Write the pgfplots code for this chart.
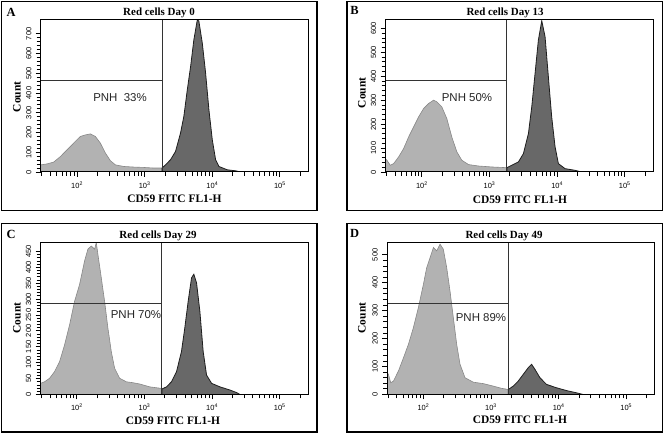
\documentclass[border=0pt]{standalone}
\usepackage{pgfplots}
\pgfplotsset{compat=1.18}
\usepackage{fontspec}
\setmainfont{Liberation Serif}
\newfontfamily\arial{Liberation Sans}
\definecolor{lightpop}{RGB}{178,178,178}
\definecolor{darkpop}{RGB}{104,104,104}
\definecolor{lightline}{RGB}{135,135,135}
\definecolor{darkline}{RGB}{30,30,30}
\pgfplotsset{
 flowaxis/.style={
  scale only axis, width=267.5bp, height=152bp,
  xmin=1.462, xmax=5.4185, ymin=0,
  axis on top,
  axis line style={line width=1bp, black},
  tick align=outside, tick pos=left,
  xtick={2,3,4,5},
  xticklabels={10\textsuperscript{2},10\textsuperscript{3},10\textsuperscript{4},10\textsuperscript{5}},
  minor xtick={1.4771,1.6021,1.6990,1.7782,1.8451,1.9031,1.9542,
               2.3010,2.4771,2.6021,2.6990,2.7782,2.8451,2.9031,2.9542,
               3.3010,3.4771,3.6021,3.6990,3.7782,3.8451,3.9031,3.9542,
               4.3010,4.4771,4.6021,4.6990,4.7782,4.8451,4.9031,4.9542,
               5.3010},
  major tick length=5bp, minor tick length=4bp,
  tick style={black, line width=0.85bp},
  ticklabel style={font=\arial\fontsize{7.5}{8.5}\selectfont},
  xticklabel style={inner sep=4.5bp},
  yticklabel style={rotate=90, anchor=south, inner sep=4bp},
  /pgf/number format/assume math mode=true,
  minor y tick num=4,
 },
 lightfill/.style={fill=lightpop, draw=lightline, line width=0.6bp},
 darkfill/.style={fill=darkpop, draw=darkline, line width=0.8bp},
 gate/.style={black!80, line width=0.8bp},
}
\begin{document}
\begin{tikzpicture}[x=1bp,y=1bp]
\useasboundingbox (0,0) rectangle (664,435);
% outer frames
\draw[line width=1.2bp] (1.5,224.5) rectangle (317,433.5);
\draw[line width=1.2bp] (347,224.5) rectangle (662.5,433.5);
\draw[line width=1.2bp] (1.5,3) rectangle (317,211.5);
\draw[line width=1.2bp] (347,3) rectangle (662.5,211.5);

% ---------------- Panel A ----------------
\begin{axis}[flowaxis, at={(40.7bp,263bp)}, anchor=south west,
  ymax=770, ytick={0,100,...,700}]
\addplot[lightfill] table {
x y
1.462 36
1.556 41
1.653 50
1.753 78
1.827 104
1.901 129
1.975 155
2.049 180
2.123 188
2.197 193
2.271 180
2.345 146
2.419 96
2.493 57
2.567 36
2.690 28
2.838 25
2.986 23
3.134 20
3.257 20
} \closedcycle;
\addplot[darkfill] table {
x y
3.257 20
3.308 36
3.382 62
3.456 104
3.530 197
3.579 281
3.630 416
3.679 534
3.727 669
3.778 770
3.801 765
3.852 653
3.901 501
3.950 315
4.000 163
4.049 62
4.098 28
4.222 11
4.345 6
4.419 0
} \closedcycle;
\addplot[gate] coordinates {(3.257,0) (3.257,770)};
\addplot[gate] coordinates {(1.462,463) (3.257,463)};
\end{axis}

% ---------------- Panel B ----------------
\begin{axis}[flowaxis, at={(385.5bp,263bp)}, anchor=south west,
  ymax=635, ytick={0,100,...,600}]
\addplot[lightfill] table {
x y
1.462 55
1.483 49
1.532 28
1.582 35
1.656 63
1.730 98
1.803 146
1.877 188
1.951 230
2.025 265
2.099 286
2.172 300
2.222 293
2.295 272
2.369 223
2.443 146
2.517 84
2.591 49
2.690 31
2.837 25
3.034 21
3.257 18
} \closedcycle;
\addplot[darkfill] table {
x y
3.257 18
3.329 28
3.428 42
3.502 77
3.576 161
3.625 272
3.674 412
3.723 551
3.773 632
3.822 565
3.871 397
3.920 230
3.970 105
4.019 35
4.117 14
4.265 7
4.363 0
} \closedcycle;
\addplot[gate] coordinates {(3.257,0) (3.257,635)};
\addplot[gate] coordinates {(1.462,381) (3.257,381)};
\end{axis}

% ---------------- Panel C ----------------
\begin{axis}[flowaxis, at={(40.5bp,40.5bp)}, anchor=south west,
  ymax=478, ytick={0,50,...,450}]
\addplot[lightfill] table {
x y
1.462 35
1.522 40
1.596 51
1.670 72
1.744 103
1.818 156
1.892 219
1.966 293
2.040 346
2.114 420
2.163 457
2.213 467
2.262 457
2.287 478
2.311 441
2.361 367
2.410 293
2.459 209
2.509 135
2.559 82
2.633 51
2.731 40
2.830 37
2.929 33
3.077 24
3.257 19
} \closedcycle;
\addplot[darkfill] table {
x y
3.257 17
3.325 24
3.400 40
3.474 72
3.547 135
3.596 209
3.646 293
3.696 367
3.730 378
3.770 351
3.819 262
3.868 135
3.918 61
3.993 35
4.116 24
4.264 14
4.363 6
4.412 0
} \closedcycle;
\addplot[gate] coordinates {(3.257,0) (3.257,478)};
\addplot[gate] coordinates {(1.462,285) (3.257,285)};
\end{axis}

% ---------------- Panel D ----------------
\begin{axis}[flowaxis, at={(387bp,40.5bp)}, anchor=south west,
  ymax=544, ytick={0,100,...,500}]
\addplot[lightfill] table {
x y
1.462 80
1.483 72
1.517 42
1.557 48
1.631 84
1.705 131
1.778 179
1.852 239
1.926 311
2.000 394
2.049 454
2.099 490
2.148 526
2.197 514
2.246 538
2.295 520
2.345 454
2.394 370
2.443 275
2.493 179
2.542 108
2.616 60
2.739 44
2.886 39
3.034 30
3.157 22
3.257 18
} \closedcycle;
\addplot[darkfill] table {
x y
3.257 18
3.329 30
3.403 48
3.477 72
3.551 96
3.600 108
3.650 90
3.724 60
3.822 36
3.970 24
4.117 14
4.265 6
4.363 0
} \closedcycle;
\addplot[gate] coordinates {(3.257,0) (3.257,544)};
\addplot[gate] coordinates {(1.462,325) (3.257,325)};
\end{axis}

% ---------------- Texts ----------------
\begin{scope}[every node/.style={font=\fontsize{12.5}{13}\selectfont\bfseries, inner sep=0pt}]
\node at (11,422.5) {A};
\node at (354.5,425) {B};
\node at (11,201) {C};
\node at (354.5,202) {D};
\end{scope}
\begin{scope}[every node/.style={font=\fontsize{11}{12}\selectfont\bfseries, inner sep=0pt}]
\node at (159,422) {Red cells Day 0};
\node at (505,422) {Red cells Day 13};
\node at (158,199) {Red cells Day 29};
\node at (504,199) {Red cells Day 49};
\end{scope}
\begin{scope}[every node/.style={font=\fontsize{11.5}{12}\selectfont\bfseries, inner sep=0pt}]
\node[rotate=90] at (17,338) {Count};
\node[rotate=90] at (362,342) {Count};
\node[rotate=90] at (17,117) {Count};
\node[rotate=90] at (362,117) {Count};
\node at (174.5,236) {CD59 FITC FL1-H};
\node at (520,235) {CD59 FITC FL1-H};
\node at (173,14) {CD59 FITC FL1-H};
\node at (520,15.5) {CD59 FITC FL1-H};
\end{scope}
\begin{scope}[every node/.style={font=\arial\fontsize{11.5}{12}\selectfont, text=black!85, inner sep=0pt}]
\node at (120,337) {PNH\ \ 33\%};
\node at (467,337) {PNH 50\%};
\node at (136,120) {PNH 70\%};
\node at (481,117) {PNH 89\%};
\end{scope}
\end{tikzpicture}
\end{document}
